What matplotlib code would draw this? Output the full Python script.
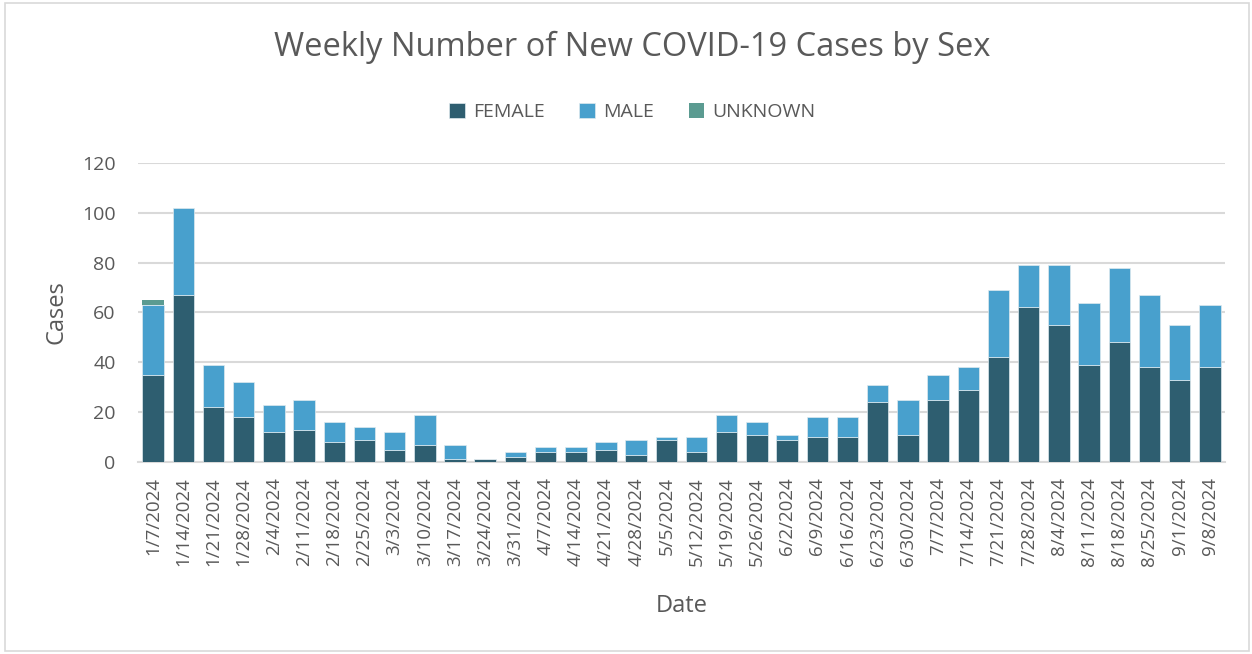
import matplotlib
matplotlib.use("Agg")
import matplotlib.pyplot as plt
from matplotlib.patches import Rectangle
import numpy as np

plt.rcParams['font.family'] = ['Open Sans', 'DejaVu Sans']

dates = ["1/7/2024", "1/14/2024", "1/21/2024", "1/28/2024", "2/4/2024", "2/11/2024",
         "2/18/2024", "2/25/2024", "3/3/2024", "3/10/2024", "3/17/2024", "3/24/2024",
         "3/31/2024", "4/7/2024", "4/14/2024", "4/21/2024", "4/28/2024", "5/5/2024",
         "5/12/2024", "5/19/2024", "5/26/2024", "6/2/2024", "6/9/2024", "6/16/2024",
         "6/23/2024", "6/30/2024", "7/7/2024", "7/14/2024", "7/21/2024", "7/28/2024",
         "8/4/2024", "8/11/2024", "8/18/2024", "8/25/2024", "9/1/2024", "9/8/2024"]
female = [35, 67, 22, 18, 12, 13, 8, 9, 5, 7, 1, 1, 2, 4, 4, 5, 3, 9,
          4, 12, 11, 9, 10, 10, 24, 11, 25, 29, 42, 62, 55, 39, 48, 38, 33, 38]
male = [28, 35, 17, 14, 11, 12, 8, 5, 7, 12, 6, 0, 2, 2, 2, 3, 6, 1,
        6, 7, 5, 2, 8, 8, 7, 14, 10, 9, 27, 17, 24, 25, 30, 29, 22, 25]
unknown = [2, 0, 0, 0, 0, 0, 0, 0, 0, 0, 0, 0, 0, 0, 0, 0, 0, 0,
           0, 0, 0, 0, 0, 0, 0, 0, 0, 0, 0, 0, 0, 0, 0, 0, 0, 0]

c_female = "#2E5E70"
c_male = "#48A0CD"
c_unknown = "#5B9B91"
txt = "#595959"

fig = plt.figure(figsize=(12.52, 6.54), dpi=100)
ax = fig.add_axes([0.1102, 0.2936, 0.8682, 0.4572])

x = np.arange(len(dates))
f = np.array(female)
m = np.array(male)
u = np.array(unknown)
w = 0.71
ax.bar(x, f, w, color=c_female, edgecolor="#dfe9ee", linewidth=0.5, label="FEMALE", zorder=3)
ax.bar(x, m, w, bottom=f, color=c_male, edgecolor="#dfe9ee", linewidth=0.5, label="MALE", zorder=3)
ax.bar(x, u, w, bottom=f + m, color=c_unknown, linewidth=0, label="UNKNOWN", zorder=3)

ax.set_xlim(-0.5, len(dates) - 0.5)
ax.set_ylim(0, 120)
ax.set_yticks(range(0, 121, 20))
ax.yaxis.grid(True, color="#D9D9D9", linewidth=1.5, zorder=0)
ax.set_axisbelow(True)
for s in ["top", "right", "left"]:
    ax.spines[s].set_visible(False)
ax.spines["bottom"].set_color("#D9D9D9")
ax.spines["bottom"].set_linewidth(1.5)
ax.tick_params(length=0, labelcolor=txt)
ax.tick_params(axis="y", pad=16, labelsize=14)
ax.tick_params(axis="x", pad=11, labelsize=13.5)
ax.set_xticks(x)
ax.set_xticklabels(dates, rotation=90)

ax.set_ylabel("Cases", fontsize=17, color=txt, labelpad=10)
ax.set_xlabel("Date", fontsize=17, color=txt, labelpad=20)

fig.text(0.505, 0.927, "Weekly Number of New COVID-19 Cases by Sex", ha="center", va="center",
         fontsize=23.5, color=txt)
fig.legend(loc="center", bbox_to_anchor=(0.505, 0.829), ncol=3, frameon=False,
           fontsize=14, handlelength=0.8, handleheight=0.8, handletextpad=0.4,
           columnspacing=1.8, labelcolor=txt)

fig.patches.append(Rectangle((0.004, 0.005), 0.994, 0.99, transform=fig.transFigure,
                             fill=False, edgecolor="#D9D9D9", linewidth=1.2))

fig.savefig("out.png", dpi=100)
